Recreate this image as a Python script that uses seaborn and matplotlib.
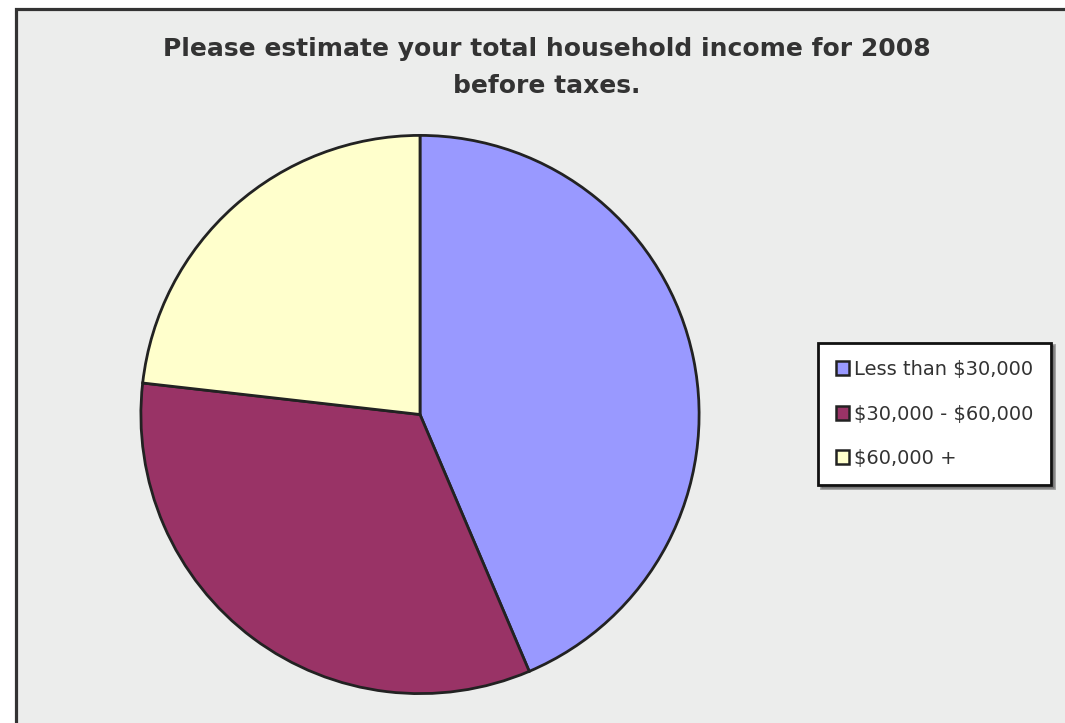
import matplotlib
matplotlib.use("Agg")
import matplotlib.pyplot as plt
import seaborn as sns
from matplotlib.patches import Rectangle, Patch

# survey answers, share of respondents (%)
categories = ["Less than \\$30,000", "\\$30,000 - \\$60,000", "\\$60,000 +"]
shares = [43.6, 33.2, 23.2]
colors = ["#9999FF", "#993366", "#FFFFCC"]

title = "Please estimate your total household income for 2008\nbefore taxes."

sns.set_theme(style="white")
plt.rcParams["font.family"] = ["DejaVu Sans"]

fig = plt.figure(figsize=(10.65, 7.23), dpi=100, facecolor="white")
W, H = 1065, 723

# grey panel with dark frame (cut off at right and bottom)
fig.patches.append(Rectangle((15.5 / W, -0.1), 1.2, 1.1 - 9.5 / H,
                             transform=fig.transFigure, facecolor="#ECEDEC",
                             edgecolor="#333333", linewidth=2.3, zorder=-10))

ax = fig.add_axes([139.5 / W, 28 / H, 561 / W, 561 / H])
ax.pie(shares, colors=sns.color_palette(colors), startangle=90, counterclock=False,
       wedgeprops=dict(edgecolor="#222222", linewidth=2.0))
ax.set_xlim(-1.005, 1.005)
ax.set_ylim(-1.005, 1.005)
ax.set_aspect("equal")
ax.axis("off")

fig.text(547 / W, 1 - 67.5 / H, title, ha="center", va="center", fontsize=18,
         fontweight="bold", color="#333333", linespacing=1.7)

handles = [Patch(facecolor=c, edgecolor="#222222", linewidth=1.8) for c in colors]
leg = fig.legend(handles, categories, loc="center left",
                 bbox_to_anchor=(818 / W, 1 - 414 / H), borderaxespad=0,
                 frameon=True, fancybox=False, shadow=True, fontsize=14,
                 handlelength=0.7, handleheight=0.7, handletextpad=0.25,
                 labelspacing=1.31, borderpad=0.9, labelcolor="#333333")
leg.get_frame().set_edgecolor("#111111")
leg.get_frame().set_linewidth(2.0)
leg.get_frame().set_facecolor("white")

fig.savefig("out.png", dpi=100, facecolor=fig.get_facecolor())
